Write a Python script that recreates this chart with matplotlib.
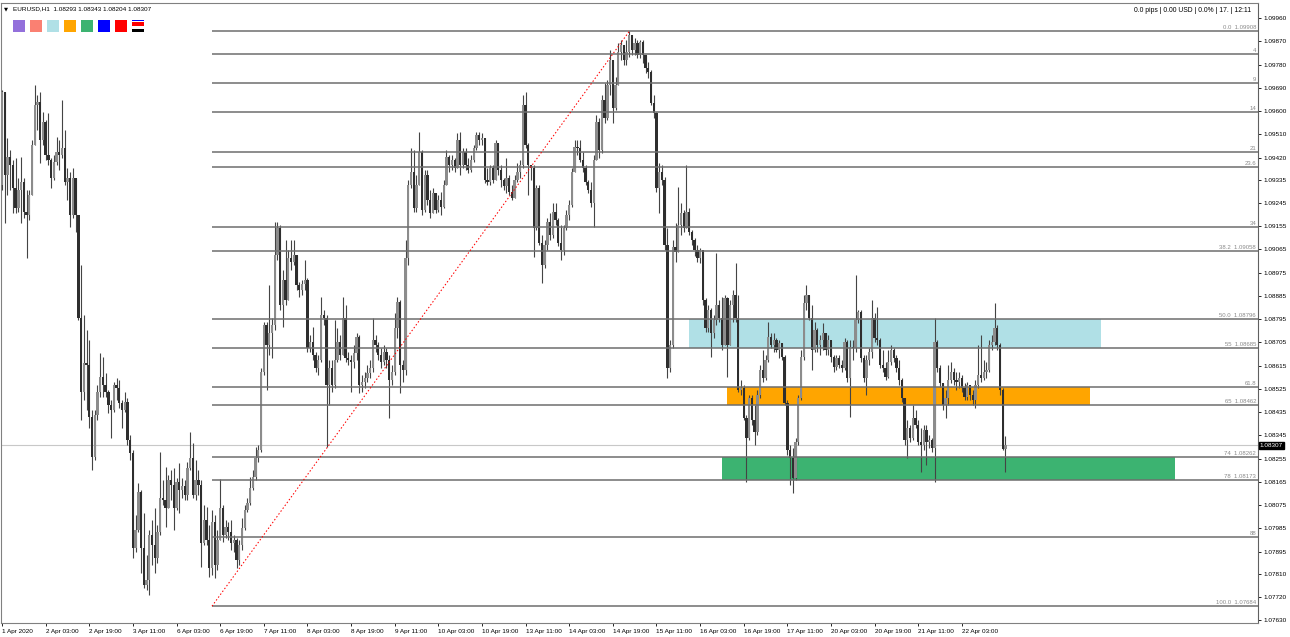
import numpy as np
import matplotlib
matplotlib.use("Agg")
import matplotlib.pyplot as plt
from matplotlib.patches import Rectangle
from matplotlib.transforms import blended_transform_factory

plt.rcParams['font.family'] = ['Liberation Sans', 'DejaVu Sans']

# EURUSD H1 bars, first bar = 1 Apr 2020 11:00 (open of each bar = previous close)
first_open = 1.09314
closes = [
    1.09674, 1.09353, 1.09422, 1.09391, 1.09302, 1.09225, 1.09295, 1.09326, 1.09210, 1.09198,
    1.09275, 1.09469, 1.09624, 1.09635, 1.09488, 1.09558, 1.09430, 1.09411, 1.09341, 1.09403,
    1.09442, 1.09430, 1.09457, 1.09326, 1.09341, 1.09198, 1.09341, 1.09198, 1.08799, 1.08513,
    1.08625, 1.08617, 1.08416, 1.08261, 1.08424, 1.08513, 1.08571, 1.08540, 1.08513, 1.08463,
    1.08443, 1.08540, 1.08528, 1.08470, 1.08443, 1.08474, 1.08327, 1.08277, 1.07909, 1.07979,
    1.08126, 1.07909, 1.07766, 1.07785, 1.07960, 1.07921, 1.07871, 1.07971, 1.08103, 1.08095,
    1.08064, 1.08172, 1.08153, 1.08064, 1.08165, 1.08134, 1.08149, 1.08114, 1.08219, 1.08258,
    1.08114, 1.08172, 1.08153, 1.07929, 1.08018, 1.07940, 1.07832, 1.08010, 1.07843, 1.07940,
    1.08064, 1.07960, 1.07991, 1.07971, 1.07929, 1.07940, 1.07863, 1.07921, 1.07987, 1.08056,
    1.08083, 1.08141, 1.08184, 1.08258, 1.08288, 1.08590, 1.08772, 1.08695, 1.08741, 1.08772,
    1.09043, 1.09148, 1.08850, 1.08946, 1.08869, 1.09032, 1.09016, 1.09043, 1.08927, 1.08908,
    1.08931, 1.08946, 1.08683, 1.08706, 1.08656, 1.08606, 1.08637, 1.08811, 1.08799, 1.08540,
    1.08606, 1.08540, 1.08637, 1.08706, 1.08656, 1.08799, 1.08645, 1.08637, 1.08629, 1.08664,
    1.08726, 1.08540, 1.08552, 1.08567, 1.08586, 1.08606, 1.08714, 1.08695, 1.08656, 1.08629,
    1.08668, 1.08637, 1.08559, 1.08590, 1.08761, 1.08861, 1.08617, 1.08598, 1.09032, 1.09314,
    1.09364, 1.09225, 1.09314, 1.09442, 1.09217, 1.09353, 1.09256, 1.09206, 1.09283, 1.09217,
    1.09256, 1.09229, 1.09314, 1.09422, 1.09391, 1.09411, 1.09380, 1.09488, 1.09391, 1.09442,
    1.09391, 1.09372, 1.09411, 1.09457, 1.09508, 1.09488, 1.09496, 1.09333, 1.09326, 1.09380,
    1.09333, 1.09477, 1.09372, 1.09333, 1.09310, 1.09341, 1.09287, 1.09264, 1.09333, 1.09364,
    1.09391, 1.09624, 1.09469, 1.09391, 1.09380, 1.09148, 1.09302, 1.09090, 1.09004, 1.09082,
    1.09171, 1.09121, 1.09210, 1.09179, 1.09090, 1.09062, 1.09148, 1.09198, 1.09237, 1.09364,
    1.09461, 1.09457, 1.09411, 1.09380, 1.09326, 1.09295, 1.09244, 1.09411, 1.09558, 1.09449,
    1.09643, 1.09573, 1.09701, 1.09798, 1.09612, 1.09701, 1.09829, 1.09856, 1.09798, 1.09829,
    1.09895, 1.09836, 1.09864, 1.09817, 1.09867, 1.09817, 1.09767, 1.09751, 1.09631, 1.09593,
    1.09302, 1.09364, 1.09333, 1.09082, 1.08606, 1.08695, 1.09074, 1.09055, 1.09159, 1.09206,
    1.09148, 1.09210, 1.09132, 1.09101, 1.09062, 1.09032, 1.09062, 1.08869, 1.08761, 1.08830,
    1.08741, 1.08792, 1.08850, 1.08799, 1.08695, 1.08877, 1.08695, 1.08850, 1.08888, 1.08799,
    1.08521, 1.08528, 1.08412, 1.08335, 1.08490, 1.08405, 1.08358, 1.08501, 1.08598, 1.08567,
    1.08637, 1.08726, 1.08695, 1.08714, 1.08675, 1.08703, 1.08648, 1.08470, 1.08288, 1.08258,
    1.08180, 1.08319, 1.08490, 1.08648, 1.08857, 1.08888, 1.08799, 1.08675, 1.08753, 1.08695,
    1.08714, 1.08741, 1.08675, 1.08714, 1.08648, 1.08610, 1.08645, 1.08617, 1.08606, 1.08706,
    1.08567, 1.08687, 1.08683, 1.08792, 1.08823, 1.08645, 1.08567, 1.08637, 1.08668, 1.08799,
    1.08722, 1.08714, 1.08617, 1.08606, 1.08571, 1.08629, 1.08675, 1.08645, 1.08606, 1.08559,
    1.08490, 1.08327, 1.08374, 1.08335, 1.08412, 1.08385, 1.08319, 1.08308, 1.08366, 1.08319,
    1.08327, 1.08296, 1.08706, 1.08606, 1.08548, 1.08463, 1.08490, 1.08559, 1.08590, 1.08559,
    1.08552, 1.08567, 1.08528, 1.08494, 1.08540, 1.08501, 1.08482, 1.08540, 1.08579, 1.08567,
    1.08590, 1.08598, 1.08695, 1.08706, 1.08761, 1.08695, 1.08521, 1.08293, 1.08307,
]
highs = [
    1.09682, 1.09662, 1.09496, 1.09449, 1.09411, 1.09419, 1.09341, 1.09422, 1.09341, 1.09295,
    1.09295, 1.09488, 1.09701, 1.09662, 1.09674, 1.09597, 1.09566, 1.09593, 1.09419, 1.09430,
    1.09500, 1.09488, 1.09643, 1.09527, 1.09380, 1.09364, 1.09380, 1.09295, 1.09198, 1.09004,
    1.08811, 1.08753, 1.08714, 1.08443, 1.08443, 1.08540, 1.08664, 1.08648, 1.08586, 1.08521,
    1.08482, 1.08552, 1.08567, 1.08559, 1.08482, 1.08513, 1.08490, 1.08347, 1.08288, 1.08037,
    1.08161, 1.08134, 1.08045, 1.07882, 1.07979, 1.08018, 1.08064, 1.07998, 1.08281, 1.08172,
    1.08223, 1.08192, 1.08211, 1.08219, 1.08180, 1.08238, 1.08180, 1.08172, 1.08242, 1.08358,
    1.08316, 1.08250, 1.08211, 1.08172, 1.08076, 1.08068, 1.07998, 1.08056, 1.08037, 1.07979,
    1.08176, 1.08076, 1.08018, 1.08010, 1.08018, 1.07960, 1.07948, 1.07940, 1.08025, 1.08076,
    1.08103, 1.08184, 1.08211, 1.08300, 1.08308, 1.08606, 1.08784, 1.08784, 1.08927, 1.08799,
    1.09171, 1.09171, 1.09159, 1.08985, 1.09101, 1.09062, 1.09101, 1.09101, 1.09043, 1.08939,
    1.08946, 1.09024, 1.08954, 1.08734, 1.08765, 1.08668, 1.08656, 1.08881, 1.08830, 1.08811,
    1.08637, 1.08637, 1.08792, 1.08761, 1.08734, 1.08881, 1.08850, 1.08668, 1.08656, 1.08695,
    1.08741, 1.08734, 1.08579, 1.08590, 1.08617, 1.08637, 1.08799, 1.08734, 1.08706, 1.08683,
    1.08695, 1.08683, 1.08656, 1.08617, 1.08819, 1.08881, 1.08869, 1.08637, 1.09101, 1.09333,
    1.09457, 1.09449, 1.09353, 1.09519, 1.09449, 1.09372, 1.09372, 1.09295, 1.09302, 1.09275,
    1.09275, 1.09287, 1.09333, 1.09449, 1.09430, 1.09430, 1.09419, 1.09515, 1.09519, 1.09457,
    1.09457, 1.09419, 1.09430, 1.09469, 1.09519, 1.09519, 1.09515, 1.09488, 1.09380, 1.09391,
    1.09391, 1.09488, 1.09477, 1.09391, 1.09341, 1.09419, 1.09353, 1.09314, 1.09353, 1.09399,
    1.09411, 1.09662, 1.09674, 1.09477, 1.09391, 1.09391, 1.09314, 1.09314, 1.09121, 1.09101,
    1.09186, 1.09206, 1.09244, 1.09244, 1.09186, 1.09159, 1.09159, 1.09217, 1.09256, 1.09380,
    1.09488, 1.09488, 1.09488, 1.09442, 1.09391, 1.09333, 1.09326, 1.09430, 1.09585, 1.09573,
    1.09662, 1.09709, 1.09720, 1.09836, 1.09798, 1.09732, 1.09864, 1.09875, 1.09856, 1.09875,
    1.09910, 1.09895, 1.09883, 1.09875, 1.09875, 1.09875, 1.09817, 1.09790, 1.09759, 1.09662,
    1.09597, 1.09399, 1.09391, 1.09345, 1.09148, 1.08714, 1.09101, 1.09167, 1.09306, 1.09244,
    1.09217, 1.09391, 1.09225, 1.09140, 1.09109, 1.09082, 1.09070, 1.09043, 1.08877, 1.08850,
    1.08838, 1.08811, 1.09051, 1.08869, 1.08881, 1.08888, 1.08881, 1.08869, 1.08908, 1.09012,
    1.08888, 1.08559, 1.08540, 1.08424, 1.08501, 1.08501, 1.08463, 1.08521, 1.08617, 1.08675,
    1.08656, 1.08784, 1.08741, 1.08741, 1.08722, 1.08714, 1.08695, 1.08656, 1.08482, 1.08308,
    1.08296, 1.08335, 1.08501, 1.08675, 1.08888, 1.08927, 1.08869, 1.08850, 1.08784, 1.08761,
    1.08734, 1.08780, 1.08741, 1.08734, 1.08714, 1.08656, 1.08656, 1.08656, 1.08637, 1.08722,
    1.08714, 1.08714, 1.08714, 1.08966, 1.08830, 1.08830, 1.08656, 1.08656, 1.08683, 1.08869,
    1.08819, 1.08842, 1.08722, 1.08675, 1.08629, 1.08675, 1.08695, 1.08683, 1.08656, 1.08637,
    1.08567, 1.08490, 1.08405, 1.08385, 1.08463, 1.08443, 1.08405, 1.08374, 1.08385, 1.08385,
    1.08347, 1.08335, 1.08799, 1.08714, 1.08617, 1.08548, 1.08521, 1.08617, 1.08629, 1.08606,
    1.08590, 1.08590, 1.08579, 1.08548, 1.08552, 1.08540, 1.08521, 1.08559, 1.08695, 1.08734,
    1.08637, 1.08629, 1.08714, 1.08734, 1.08857, 1.08772, 1.08703, 1.08528, 1.08343,
]
lows = [
    1.09295, 1.09167, 1.09275, 1.09295, 1.09206, 1.09206, 1.09210, 1.09167, 1.09186, 1.09032,
    1.09179, 1.09275, 1.09469, 1.09527, 1.09399, 1.09469, 1.09411, 1.09391, 1.09302, 1.09333,
    1.09391, 1.09372, 1.09419, 1.09314, 1.09256, 1.09152, 1.09186, 1.09132, 1.08792, 1.08405,
    1.08482, 1.08443, 1.08374, 1.08211, 1.08250, 1.08405, 1.08494, 1.08494, 1.08494, 1.08432,
    1.08335, 1.08436, 1.08482, 1.08451, 1.08374, 1.08436, 1.08308, 1.08250, 1.07871, 1.07894,
    1.07971, 1.07812, 1.07754, 1.07747, 1.07727, 1.07843, 1.07812, 1.07851, 1.07960, 1.08076,
    1.07991, 1.08076, 1.08095, 1.07979, 1.08056, 1.08045, 1.08103, 1.08095, 1.08095, 1.08211,
    1.08103, 1.08095, 1.08114, 1.07836, 1.07921, 1.07921, 1.07797, 1.07805, 1.07793, 1.07824,
    1.07940, 1.07932, 1.07948, 1.07940, 1.07901, 1.07894, 1.07832, 1.07843, 1.07901, 1.07979,
    1.08049, 1.08076, 1.08134, 1.08172, 1.08242, 1.08281, 1.08579, 1.08521, 1.08656, 1.08645,
    1.08753, 1.09024, 1.08830, 1.08765, 1.08850, 1.08869, 1.08985, 1.09004, 1.08908, 1.08881,
    1.08888, 1.08908, 1.08668, 1.08668, 1.08637, 1.08590, 1.08579, 1.08629, 1.08772, 1.08300,
    1.08463, 1.08513, 1.08528, 1.08629, 1.08637, 1.08695, 1.08629, 1.08617, 1.08513, 1.08606,
    1.08637, 1.08509, 1.08513, 1.08528, 1.08552, 1.08567, 1.08590, 1.08668, 1.08637, 1.08606,
    1.08617, 1.08606, 1.08412, 1.08540, 1.08579, 1.08722, 1.08509, 1.08552, 1.08579, 1.09004,
    1.09302, 1.09210, 1.09210, 1.09314, 1.09198, 1.09210, 1.09237, 1.09186, 1.09210, 1.09206,
    1.09210, 1.09198, 1.09225, 1.09314, 1.09364, 1.09372, 1.09364, 1.09380, 1.09353, 1.09380,
    1.09372, 1.09360, 1.09364, 1.09403, 1.09449, 1.09469, 1.09469, 1.09322, 1.09314, 1.09314,
    1.09322, 1.09341, 1.09353, 1.09306, 1.09295, 1.09283, 1.09275, 1.09256, 1.09275, 1.09326,
    1.09341, 1.09380, 1.09457, 1.09275, 1.09333, 1.09035, 1.09140, 1.09082, 1.08935, 1.08993,
    1.09062, 1.09101, 1.09109, 1.09159, 1.09078, 1.09024, 1.09043, 1.09140, 1.09179, 1.09229,
    1.09364, 1.09430, 1.09403, 1.09364, 1.09314, 1.09283, 1.09229, 1.09152, 1.09430, 1.09419,
    1.09438, 1.09554, 1.09566, 1.09662, 1.09554, 1.09604, 1.09701, 1.09798, 1.09778, 1.09778,
    1.09809, 1.09817, 1.09817, 1.09806, 1.09806, 1.09786, 1.09747, 1.09728, 1.09624, 1.09573,
    1.09287, 1.09206, 1.09314, 1.09062, 1.08567, 1.08590, 1.08683, 1.09016, 1.09062, 1.09121,
    1.09132, 1.09148, 1.09121, 1.09082, 1.09039, 1.09016, 1.09012, 1.08850, 1.08745, 1.08745,
    1.08648, 1.08722, 1.08772, 1.08784, 1.08675, 1.08695, 1.08571, 1.08695, 1.08784, 1.08784,
    1.08513, 1.08501, 1.08405, 1.08165, 1.08327, 1.08385, 1.08308, 1.08347, 1.08490, 1.08552,
    1.08559, 1.08629, 1.08683, 1.08668, 1.08668, 1.08645, 1.08637, 1.08463, 1.08269, 1.08153,
    1.08122, 1.08172, 1.08308, 1.08482, 1.08637, 1.08830, 1.08792, 1.08598, 1.08668, 1.08668,
    1.08656, 1.08675, 1.08656, 1.08656, 1.08629, 1.08590, 1.08598, 1.08606, 1.08590, 1.08598,
    1.08552, 1.08416, 1.08637, 1.08668, 1.08780, 1.08629, 1.08552, 1.08501, 1.08617, 1.08645,
    1.08706, 1.08695, 1.08606, 1.08590, 1.08559, 1.08567, 1.08617, 1.08629, 1.08590, 1.08540,
    1.08474, 1.08308, 1.08258, 1.08319, 1.08327, 1.08374, 1.08308, 1.08203, 1.08288, 1.08230,
    1.08296, 1.08281, 1.08165, 1.08590, 1.08532, 1.08443, 1.08412, 1.08463, 1.08548, 1.08540,
    1.08521, 1.08528, 1.08513, 1.08482, 1.08482, 1.08482, 1.08463, 1.08451, 1.08528, 1.08552,
    1.08559, 1.08567, 1.08590, 1.08675, 1.08695, 1.08675, 1.08501, 1.08288, 1.08204,
]

time_labels = ["1 Apr 2020", "2 Apr 03:00", "2 Apr 19:00", "3 Apr 11:00", "6 Apr 03:00",
               "6 Apr 19:00", "7 Apr 11:00", "8 Apr 03:00", "8 Apr 19:00", "9 Apr 11:00",
               "10 Apr 03:00", "10 Apr 19:00", "13 Apr 11:00", "14 Apr 03:00", "14 Apr 19:00",
               "15 Apr 11:00", "16 Apr 03:00", "16 Apr 19:00", "17 Apr 11:00", "20 Apr 03:00",
               "20 Apr 19:00", "21 Apr 11:00", "22 Apr 03:00"]
bars_per_label = 16

price_ticks = [1.09960, 1.09870, 1.09780, 1.09690, 1.09600, 1.09510, 1.09420, 1.09335,
               1.09245, 1.09155, 1.09065, 1.08975, 1.08885, 1.08795, 1.08705, 1.08615,
               1.08525, 1.08435, 1.08345, 1.08255, 1.08165, 1.08075, 1.07985, 1.07895,
               1.07810, 1.07720, 1.07630]

# fibonacci retracement
fib_high = 1.09908
fib_low = 1.07684
fib_bars = (77, 230)
fib_levels = [0.0, 4, 9, 14, 21, 23.6, 34, 38.2, 50.0, 55, 61.8, 65, 74, 78, 88, 100.0]
fib_texts = ["0.0  1.09908", "4", "9", "14", "21", "23.6", "34", "38.2  1.09058",
             "50.0  1.08796", "55  1.08685", "61.8", "65  1.08462", "74  1.08262",
             "78  1.08173", "88", "100.0  1.07684"]

# zones between fib levels
zone_levels = [(50.0, 55), (61.8, 65), (74, 78)]
zone_bars = [(252, 403), (266, 399), (264, 430)]
zone_colors = ["#b0e0e6", "#ffa500", "#3cb371"]

swatch_colors = ["#9370db", "#fa8072", "#b0e0e6", "#ffa500", "#3cb371", "#0000ff", "#ff0000"]

last = {"open": 1.08293, "high": 1.08343, "low": 1.08204, "close": 1.08307}

W, H = 1290, 637
fig = plt.figure(figsize=(W / 100, H / 100), dpi=100)
ax = fig.add_axes([1 / W, 14 / H, 1257 / W, 620 / H])
ax.set_xlim(-0.37, 460.6)
ax.set_ylim(1.07619, 1.10018)

c = np.array(closes)
o = np.concatenate([[first_open], c[:-1]])
hi = np.maximum(np.array(highs), np.maximum(o, c))
lo = np.minimum(np.array(lows), np.minimum(o, c))
idx = np.arange(len(c))
up = c >= o
bottom = np.minimum(o, c)
height = np.maximum(np.abs(c - o), 0.00003)

# zones
for (l1, l2), (b1, b2), col in zip(zone_levels, zone_bars, zone_colors):
    p1 = fib_high - l1 / 100 * (fib_high - fib_low)
    p2 = fib_high - l2 / 100 * (fib_high - fib_low)
    ax.add_patch(Rectangle((b1, p2), b2 - b1, p1 - p2, facecolor=col, edgecolor="none", zorder=1))

# bid line
ax.axhline(last["close"], color="#c8c8c8", lw=0.8, zorder=1.5)

# candles
ax.vlines(idx, lo, hi, color="#444444", lw=0.8, zorder=3)
ax.bar(idx[up], height[up], bottom=bottom[up], width=0.85, color="#8c8c8c", edgecolor="none", zorder=3.2)
ax.bar(idx[~up], height[~up], bottom=bottom[~up], width=0.85, color="#2e2e2e", edgecolor="none", zorder=3.2)

# fib lines and labels
xmax = ax.get_xlim()[1]
trans_lbl = blended_transform_factory(ax.transAxes, ax.transData)
for lev, txt in zip(fib_levels, fib_texts):
    p = fib_high - lev / 100 * (fib_high - fib_low)
    ax.hlines(p, fib_bars[0], xmax, color="#6e6e6e", lw=1.1, zorder=4)
    ax.text(0.9985, p + 0.00004, txt, transform=trans_lbl, ha="right", va="bottom",
            fontsize=4.3, color="#8a8a8a", zorder=5)
ax.plot(fib_bars, (fib_low, fib_high), color="red", lw=0.75, ls=(0, (1.4, 2.0)), zorder=5)

# axes styling
for s in ax.spines.values():
    s.set_color("#808080")
    s.set_linewidth(0.8)
ax.spines["right"].set_color("#606060")
ax.yaxis.tick_right()
ax.set_yticks(price_ticks)
ax.set_yticklabels([f"{v:.5f}" for v in price_ticks])
ax.tick_params(axis="y", length=2.5, width=0.6, labelsize=4.6, pad=1.3, colors="black")
ax.set_xticks(np.arange(len(time_labels)) * bars_per_label)
ax.set_xticklabels(time_labels, ha="left")
ax.tick_params(axis="x", length=2.5, width=0.6, labelsize=4.6, pad=1.5, colors="black")

ax.text(1.0015, last["close"], f"{last['close']:.5f}", transform=trans_lbl, ha="left", va="center",
        fontsize=4.6, color="white", zorder=6, clip_on=False,
        bbox=dict(boxstyle="square,pad=0.15", fc="black", ec="black"))

# header texts
fig.text(4 / W, 1 - 8.5 / H, "\u25bc", fontsize=3.8, family="DejaVu Sans", va="center")
fig.text(13 / W, 1 - 8.5 / H, f"EURUSD,H1  {last['open']:.5f} {last['high']:.5f} {last['low']:.5f} {last['close']:.5f}",
         fontsize=4.6, va="center")
fig.text(1251 / W, 1 - 10 / H, "0.0 pips | 0.00 USD | 0.0% | 17. | 12:11", fontsize=4.9, va="center", ha="right")

for k, col in enumerate(swatch_colors):
    fig.add_artist(Rectangle(((13 + 17 * k) / W, 1 - 32 / H), 12 / W, 12.5 / H,
                             transform=fig.transFigure, facecolor=col, edgecolor="none"))
# object-list icon
ix = 13 + 17 * len(swatch_colors)
for y0, hh, col in [(19.5, 1.5, "#0000ff"), (22.5, 3.0, "#ff0000"), (29.0, 2.5, "#000000")]:
    fig.add_artist(Rectangle((ix / W, 1 - (y0 + hh) / H), 12 / W, hh / H,
                             transform=fig.transFigure, facecolor=col, edgecolor="none"))

fig.savefig("out.png", dpi=100)
